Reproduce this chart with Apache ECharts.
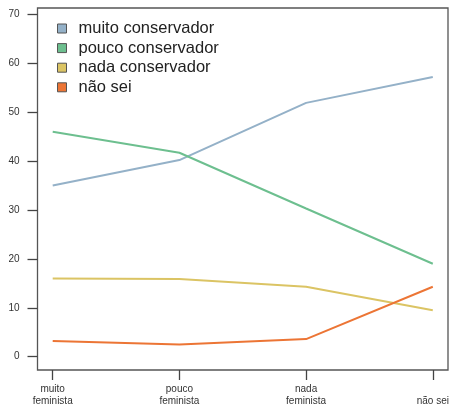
<!DOCTYPE html>
<html><head><meta charset="utf-8">
<script src="https://cdn.jsdelivr.net/npm/echarts@6/dist/echarts.min.js"></script>
<style>html,body{margin:0;padding:0;background:#fff}#c{width:453px;height:410px}</style>
</head><body><div id="c"></div>
<script>
const categories = ['muito\nfeminista', 'pouco\nfeminista', 'nada\nfeminista', 'não sei'];
const seriesNames = ['muito conservador', 'pouco conservador', 'nada conservador', 'não sei'];
const muitoConservador = [35, 40.2, 51.9, 57.2];
const poucoConservador = [46, 41.7, 30.3, 19];
const nadaConservador = [16, 15.9, 14.3, 9.5];
const naoSei = [3.2, 2.5, 3.6, 14.3];
const yTicks = [0, 10, 20, 30, 40, 50, 60, 70];

const colors = ['#94b1c8', '#6dbf8f', '#dbc464', '#ec7535'];
const allValues = [muitoConservador, poucoConservador, nadaConservador, naoSei];
const xIdx = categories.map((c, i) => i);
const font = 'Liberation Sans, Arial, sans-serif';

const chart = echarts.init(document.getElementById('c'), null, {renderer: 'canvas'});
chart.setOption({
  animation: false,
  backgroundColor: '#fff',
  color: colors,
  textStyle: {fontFamily: font},
  grid: {left: 37.5, right: 5, top: 8, bottom: 40, show: true, borderColor: '#555', borderWidth: 1.3, containLabel: false},
  legend: {
    orient: 'vertical', left: 52, top: 15, icon: 'rect', itemWidth: 9, itemHeight: 9, itemGap: 2.6,
    itemStyle: {borderColor: '#555', borderWidth: 1},
    data: seriesNames,
    formatter: n => '{n|' + n + '}',
    textStyle: {fontSize: 16.5, lineHeight: 14, rich: {n: {fontSize: 16.5, lineHeight: 14, color: '#222', fontFamily: font, padding: [0, 0, 0, 7]}}}
  },
  xAxis: {
    type: 'value', min: -0.12, max: 3.12,
    axisLine: {show: false, onZero: false},
    splitLine: {show: false},
    axisTick: {show: true, length: 10, customValues: xIdx, lineStyle: {color: '#444', width: 1.3}},
    axisLabel: {
      customValues: xIdx, margin: 13, fontSize: 10, lineHeight: 12, color: '#333', fontFamily: font,
      formatter: v => { const c = categories[Math.round(v)]; return c.indexOf('\n') < 0 ? '\n' + c : c; }
    }
  },
  yAxis: {
    type: 'value', min: -2.72, max: 71.3,
    axisLine: {show: false, onZero: false},
    splitLine: {show: false},
    axisTick: {show: true, length: 10, customValues: yTicks, lineStyle: {color: '#444', width: 1.3}},
    axisLabel: {customValues: yTicks, margin: 18, fontSize: 10, color: '#333', fontFamily: font}
  },
  series: seriesNames.map((name, k) => ({
    name: name, type: 'line', symbol: 'none',
    lineStyle: {width: 2, color: colors[k]},
    itemStyle: {color: colors[k]},
    data: allValues[k].map((v, i) => [xIdx[i], v])
  }))
});
</script>
</body></html>
